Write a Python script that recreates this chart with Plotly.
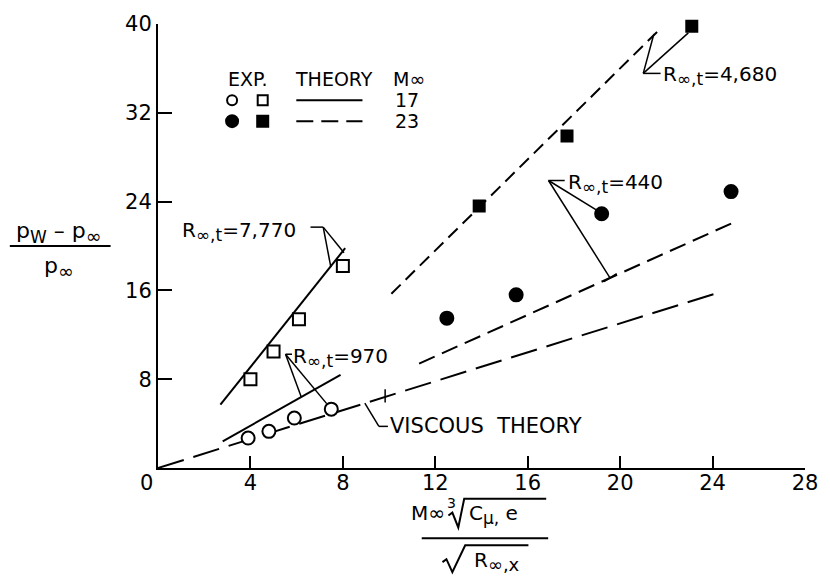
import plotly.graph_objects as go

# ---- experimental data -------------------------------------------------
# M_inf = 17 (open symbols)
x_open_circle = [3.9, 4.8, 5.9, 7.5]
y_open_circle = [2.7, 3.3, 4.5, 5.3]
x_open_square = [4.0, 5.0, 6.1, 8.0]
y_open_square = [8.0, 10.5, 13.4, 18.2]
# M_inf = 23 (filled symbols)
x_filled_circle = [12.5, 15.5, 19.2, 24.8]
y_filled_circle = [13.5, 15.6, 22.9, 24.9]
x_filled_square = [13.9, 17.7, 23.1]
y_filled_square = [23.6, 29.9, 39.8]

# ---- theory lines ------------------------------------------------------
x_th_7770 = [2.7, 8.1]
y_th_7770 = [5.7, 19.8]
x_th_970 = [2.8, 7.9]
y_th_970 = [2.4, 8.4]
x_th_4680 = [10.1, 21.8]
y_th_4680 = [15.7, 39.7]
x_th_440 = [11.3, 25.1]
y_th_440 = [9.4, 22.3]
x_viscous = [0.0, 24.1]
y_viscous = [0.0, 15.7]

# ---- axes --------------------------------------------------------------
x_ticks = [4, 8, 12, 16, 20, 24, 28]
y_ticks = [8, 16, 24, 32, 40]

FONT = "DejaVu Sans"
W, H = 830, 576
L, R, T, B = 158, 17, 20, 108
PW, PH = W - L - R, H - T - B


def fx(px):
    return (px - L) / PW


def fy(py):
    return (H - B - py) / PH


def sub(text, size):
    return f"<sub><span style='font-size:{size}px'>{text}</span></sub>"


fig = go.Figure()


def line_trace(x, y, dash="solid", width=2):
    fig.add_trace(go.Scatter(x=x, y=y, mode="lines",
                             line=dict(color="black", width=width, dash=dash),
                             hoverinfo="skip", showlegend=False))


def point_trace(x, y, symbol, fill, size):
    fig.add_trace(go.Scatter(x=x, y=y, mode="markers", cliponaxis=False,
                             marker=dict(symbol=symbol, size=size, color=fill,
                                         line=dict(color="black", width=2)),
                             showlegend=False))


line_trace(x_viscous, y_viscous, dash="27px,10px")
line_trace(x_th_440, y_th_440, dash="17px,8px")
line_trace(x_th_4680, y_th_4680, dash="13px,7px")
line_trace(x_th_7770, y_th_7770)
line_trace(x_th_970, y_th_970)

point_trace(x_open_circle, y_open_circle, "circle", "white", 13)
point_trace(x_open_square, y_open_square, "square", "white", 12)
point_trace(x_filled_circle, y_filled_circle, "circle", "black", 13)
point_trace(x_filled_square, y_filled_square, "square", "black", 11)

shapes = []


def seg(x0, y0, x1, y1, ref="data", width=1.5, dash="solid"):
    if ref == "data":
        shapes.append(dict(type="line", xref="x", yref="y", x0=x0, y0=y0, x1=x1, y1=y1,
                           line=dict(color="black", width=width, dash=dash)))
    else:
        shapes.append(dict(type="line", xref="paper", yref="paper",
                           x0=fx(x0), y0=fy(y0), x1=fx(x1), y1=fy(y1),
                           line=dict(color="black", width=width, dash=dash)))


def radical(pts):
    """Square-root sign with its overbar, given as pixel vertices."""
    path = "M " + " L ".join(f"{fx(px):.5f},{fy(py):.5f}" for px, py in pts)
    shapes.append(dict(type="path", xref="paper", yref="paper", path=path,
                       line=dict(color="black", width=2)))


# leader lines for the R_inf,t labels
seg(6.6, 21.7, 7.15, 21.7)
seg(7.15, 21.7, 7.48, 18.1)
seg(7.15, 21.7, 8.05, 19.4)

seg(5.52, 10.25, 5.8, 10.25)
seg(5.52, 10.25, 6.2, 6.4)
seg(5.52, 10.25, 7.3, 5.8)

seg(8.95, 5.85, 9.56, 3.75)
seg(9.56, 3.75, 9.95, 3.75)
seg(9.83, 7.1, 9.83, 5.9)

seg(16.9, 25.9, 17.6, 25.9)
seg(16.9, 25.9, 19.0, 23.2)
seg(16.9, 25.9, 19.54, 17.2)
seg(19.3, 16.8, 19.85, 17.5)

seg(21.0, 35.55, 21.75, 35.55)
seg(21.0, 35.55, 21.46, 39.1)
seg(21.0, 35.55, 22.95, 39.2)


def label(text, px, py, size=20, xanchor="left"):
    fig.add_annotation(text=text, x=fx(px), y=fy(py), xref="paper", yref="paper",
                       xanchor=xanchor, yanchor="middle", showarrow=False,
                       font=dict(family=FONT, size=size, color="black"))


label("R" + sub("∞,t", 17) + "=7,770", 180, 229)
label("R" + sub("∞,t", 17) + "=970", 293, 357)
label("VISCOUS  THEORY", 391, 426, size=21)
label("R" + sub("∞,t", 17) + "=440", 571, 181)
label("R" + sub("∞,t", 17) + "=4,680", 667, 72)

# origin label
label("0", 146, 483, size=21, xanchor="center")

# ---- legend block ------------------------------------------------------
label("EXP.", 227, 75, size=19)
label("THEORY", 295, 75, size=19)
label("M∞", 394, 75, size=19)
label("17", 396, 97, size=19)
label("23", 396, 118, size=19)


def key_marker(kind, px, py, filled, half):
    shapes.append(dict(type=kind, xref="paper", yref="paper",
                       xsizemode="pixel", ysizemode="pixel",
                       xanchor=fx(px), yanchor=fy(py),
                       x0=-half, x1=half, y0=-half, y1=half,
                       fillcolor="black" if filled else "white",
                       line=dict(color="black", width=2)))


key_marker("circle", 233, 97, False, 5)
key_marker("rect", 264, 97, False, 5)
key_marker("circle", 233, 118, True, 6)
key_marker("rect", 264, 118, True, 5.5)
seg(298, 97, 365, 97, ref="paper", width=2)
seg(298, 118, 365, 118, ref="paper", width=2, dash="17px,8px")

# ---- y axis title: (p_W - p_inf) / p_inf -------------------------------
label("p" + sub("W", 17) + " – p" + sub("∞", 19), 58, 230, size=22, xanchor="center")
seg(8, 244, 110, 244, ref="paper", width=2)
label("p" + sub("∞", 19), 58, 266, size=22, xanchor="center")

# ---- x axis title: M_inf^3 sqrt(C_mu,e) / sqrt(R_inf,x) ----------------
label("M∞", 451, 513, size=20, xanchor="right")
label("3", 455, 503, size=14, xanchor="center")
radical([(452, 516), (456, 513), (462, 528), (468, 499), (551, 499)])
label("C" + sub("μ,", 17) + " e", 471, 515, size=20)
seg(425, 539, 553, 539, ref="paper", width=2)
radical([(446, 563), (450, 560), (456, 573), (469, 546), (533, 546)])
label("R" + sub("∞,x", 18), 476, 562, size=20)

fig.update_layout(
    width=W, height=H,
    margin=dict(l=L, r=R, t=T, b=B),
    paper_bgcolor="white", plot_bgcolor="white",
    shapes=shapes,
    showlegend=False,
    xaxis=dict(range=[0, 28], showgrid=False, zeroline=False,
               showline=True, linecolor="black", linewidth=2,
               ticks="inside", ticklen=12, tickwidth=2, tickcolor="black",
               tickvals=x_ticks, ticktext=[str(v) for v in x_ticks],
               ticklabelstandoff=-5,
               tickfont=dict(family=FONT, size=21, color="black")),
    yaxis=dict(range=[0, 40], showgrid=False, zeroline=False,
               showline=True, linecolor="black", linewidth=2,
               ticks="inside", ticklen=14, tickwidth=2, tickcolor="black",
               tickvals=y_ticks, ticktext=[str(v) for v in y_ticks],
               tickfont=dict(family=FONT, size=21, color="black")),
)

fig.write_html("out.html")
